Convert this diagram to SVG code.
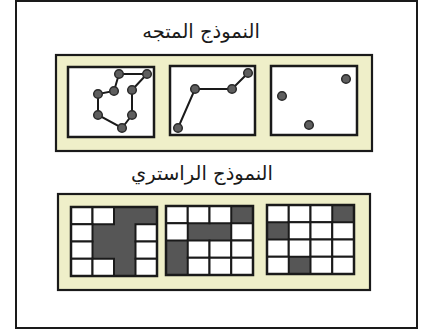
<svg xmlns="http://www.w3.org/2000/svg" width="425" height="331" viewBox="0 0 425 331">
<style>
.frame{fill:#fff;stroke:#1a1a1a;stroke-width:2}
.panel{fill:#efefc9;stroke:#1a1a1a;stroke-width:2.2}
.box{fill:#fff;stroke:#1a1a1a;stroke-width:2.5}
.edge{fill:none;stroke:#1a1a1a;stroke-width:2}
.dot{fill:#5e5e5e;stroke:#2a2a2a;stroke-width:1.5}
.cell{fill:#fff;stroke:#1a1a1a;stroke-width:2}
.dark{fill:#565656}
.title{font-family:"DejaVu Sans",sans-serif;font-size:19.5px;fill:#1a1a1a;text-anchor:middle}
</style>
<rect class="frame" x="16" y="1" width="401" height="327"/>
<g id="vector-title"><text class="title" x="201" y="38" direction="rtl">النموذج المتجه</text></g>
<g id="vector-panel">
<rect class="panel" x="56" y="55" width="316" height="96"/>
<g id="polygon-box">
<rect class="box" x="68" y="67" width="86" height="70"/>
<polygon class="edge" points="119,74 147,74 132,90 132,115 122,128 98,115 98,94 114,91"/>
<g><circle class="dot" cx="119" cy="74" r="4.3"/><circle class="dot" cx="147" cy="74" r="4.3"/><circle class="dot" cx="132" cy="90" r="4.3"/><circle class="dot" cx="132" cy="115" r="4.3"/><circle class="dot" cx="122" cy="128" r="4.3"/><circle class="dot" cx="98" cy="115" r="4.3"/><circle class="dot" cx="98" cy="94" r="4.3"/><circle class="dot" cx="114" cy="91" r="4.3"/></g>
</g>
<g id="line-box">
<rect class="box" x="170" y="66" width="85" height="69"/>
<polyline class="edge" points="178,128 195,89 232,89 248,73"/>
<g><circle class="dot" cx="178" cy="128" r="4.3"/><circle class="dot" cx="195" cy="89" r="4.3"/><circle class="dot" cx="232" cy="89" r="4.3"/><circle class="dot" cx="248" cy="73" r="4.3"/></g>
</g>
<g id="point-box">
<rect class="box" x="271" y="66" width="86" height="69"/>
<circle class="dot" cx="282" cy="96" r="4.3"/><circle class="dot" cx="346" cy="79" r="4.3"/><circle class="dot" cx="309" cy="125" r="4.3"/>
</g>
</g>
<g id="raster-title"><text class="title" x="202" y="180" direction="rtl">النموذج الراستري</text></g>
<g id="raster-panel">
<rect class="panel" x="58" y="194" width="312" height="96"/>
<g id="grid1">
<rect class="dark" x="71" y="207" width="86" height="69"/>
<rect class="cell" x="71" y="207" width="21.5" height="17.25"/><rect class="cell" x="92.5" y="207" width="21.5" height="17.25"/>
<rect class="cell" x="71" y="224.25" width="21.5" height="17.25"/><rect class="cell" x="135.5" y="224.25" width="21.5" height="17.25"/>
<rect class="cell" x="71" y="241.5" width="21.5" height="17.25"/><rect class="cell" x="135.5" y="241.5" width="21.5" height="17.25"/>
<rect class="cell" x="71" y="258.75" width="21.5" height="17.25"/><rect class="cell" x="92.5" y="258.75" width="21.5" height="17.25"/><rect class="cell" x="135.5" y="258.75" width="21.5" height="17.25"/>
<rect x="71" y="207" width="86" height="69" fill="none" stroke="#1a1a1a" stroke-width="2.5"/>
</g>
<g id="grid2">
<rect class="dark" x="166" y="206" width="87" height="69"/>
<rect class="cell" x="166" y="206" width="21.75" height="17.25"/><rect class="cell" x="187.75" y="206" width="21.75" height="17.25"/><rect class="cell" x="209.5" y="206" width="21.75" height="17.25"/>
<rect class="cell" x="166" y="223.25" width="21.75" height="17.25"/><rect class="cell" x="231.25" y="223.25" width="21.75" height="17.25"/>
<rect class="cell" x="187.75" y="240.5" width="21.75" height="17.25"/><rect class="cell" x="209.5" y="240.5" width="21.75" height="17.25"/><rect class="cell" x="231.25" y="240.5" width="21.75" height="17.25"/>
<rect class="cell" x="187.75" y="257.75" width="21.75" height="17.25"/><rect class="cell" x="209.5" y="257.75" width="21.75" height="17.25"/><rect class="cell" x="231.25" y="257.75" width="21.75" height="17.25"/>
<rect x="166" y="206" width="87" height="69" fill="none" stroke="#1a1a1a" stroke-width="2.5"/>
</g>
<g id="grid3">
<rect class="dark" x="267" y="205" width="87" height="69"/>
<rect class="cell" x="267" y="205" width="21.75" height="17.25"/><rect class="cell" x="288.75" y="205" width="21.75" height="17.25"/><rect class="cell" x="310.5" y="205" width="21.75" height="17.25"/>
<rect class="cell" x="288.75" y="222.25" width="21.75" height="17.25"/><rect class="cell" x="310.5" y="222.25" width="21.75" height="17.25"/><rect class="cell" x="332.25" y="222.25" width="21.75" height="17.25"/>
<rect class="cell" x="267" y="239.5" width="21.75" height="17.25"/><rect class="cell" x="288.75" y="239.5" width="21.75" height="17.25"/><rect class="cell" x="310.5" y="239.5" width="21.75" height="17.25"/><rect class="cell" x="332.25" y="239.5" width="21.75" height="17.25"/>
<rect class="cell" x="267" y="256.75" width="21.75" height="17.25"/><rect class="cell" x="310.5" y="256.75" width="21.75" height="17.25"/><rect class="cell" x="332.25" y="256.75" width="21.75" height="17.25"/>
<rect x="267" y="205" width="87" height="69" fill="none" stroke="#1a1a1a" stroke-width="2.5"/>
</g>
</g>
</svg>
